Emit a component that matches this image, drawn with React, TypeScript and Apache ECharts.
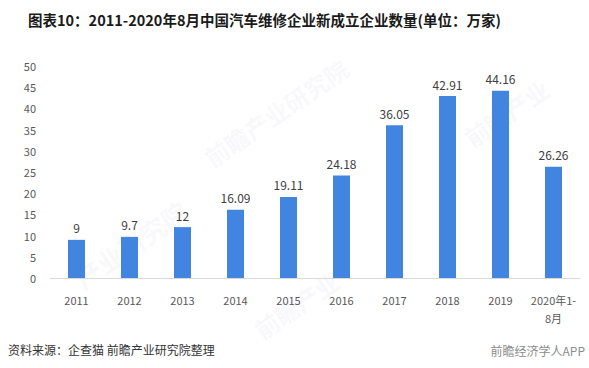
import React, { useEffect, useRef } from "react";
import * as echarts from "echarts";

const categories = ["2011", "2012", "2013", "2014", "2015", "2016", "2017", "2018", "2019", "2020年1-\n8月"];
const values = [9, 9.7, 12, 16.09, 19.11, 24.18, 36.05, 42.91, 44.16, 26.26];
const titleText = "图表10：2011-2020年8月中国汽车维修企业新成立企业数量(单位：万家)";
const sourceText = "资料来源：企查猫 前瞻产业研究院整理";
const brandText = "前瞻经济学人APP";

export default function App() {
  const ref = useRef<HTMLDivElement>(null);
  useEffect(() => {
    if (!ref.current) return;
    const chart = echarts.init(ref.current, undefined, { renderer: "svg" });
    const font = "'Noto Sans CJK SC', 'Noto Sans', sans-serif";
    const wm = "rgba(200,205,215,0.14)";
    chart.setOption({
      animation: false,
      backgroundColor: "#ffffff",
      textStyle: { fontFamily: font },
      grid: { left: 50, right: 9, top: 66, bottom: 90 },
      xAxis: {
        type: "category",
        data: categories,
        axisLine: { lineStyle: { color: "#d9d9d9", width: 1 } },
        axisTick: { show: false },
        axisLabel: { color: "#595959", fontSize: 11, margin: 13, lineHeight: 18, interval: 0 },
      },
      yAxis: {
        type: "value",
        min: 0,
        max: 50,
        interval: 5,
        axisLine: { show: false },
        axisTick: { show: false },
        splitLine: { show: false },
        axisLabel: { color: "#595959", fontSize: 11, margin: 14 },
      },
      series: [
        {
          type: "bar",
          data: values,
          barWidth: 17,
          itemStyle: { color: "#4285e0" },
          label: { show: true, position: "top", color: "#404040", fontSize: 12, distance: 6 },
        },
      ],
      graphic: [
        {
          type: "text",
          x: 200, y: 150, rotation: 0.6,
          style: { text: "前瞻产业研究院", font: `bold 24px ${font}`, fill: wm },
        },
        {
          type: "text",
          x: 70, y: 270, rotation: 0.6,
          style: { text: "产业研究院", font: `bold 26px ${font}`, fill: wm },
        },
        {
          type: "text",
          x: 460, y: 130, rotation: 0.6,
          style: { text: "前瞻产业", font: `bold 24px ${font}`, fill: wm },
        },
        {
          type: "text",
          x: 250, y: 322, rotation: 0.6,
          style: { text: "前瞻产业", font: `bold 24px ${font}`, fill: wm },
        },
        {
          type: "text",
          left: 28,
          top: 12,
          style: { text: titleText, font: `bold 14.5px ${font}`, fill: "#1a1a1a" },
        },
        {
          type: "text",
          left: 8,
          top: 343,
          style: { text: sourceText, font: `12px ${font}`, fill: "#333333" },
        },
        {
          type: "text",
          right: 4,
          top: 344,
          style: { text: brandText, font: `12px ${font}`, fill: "#8c8c8c" },
        },
      ],
    });
    return () => chart.dispose();
  }, []);
  return <div ref={ref} style={{ width: 589, height: 368, position: "absolute", left: 0, top: 0 }} />;
}
